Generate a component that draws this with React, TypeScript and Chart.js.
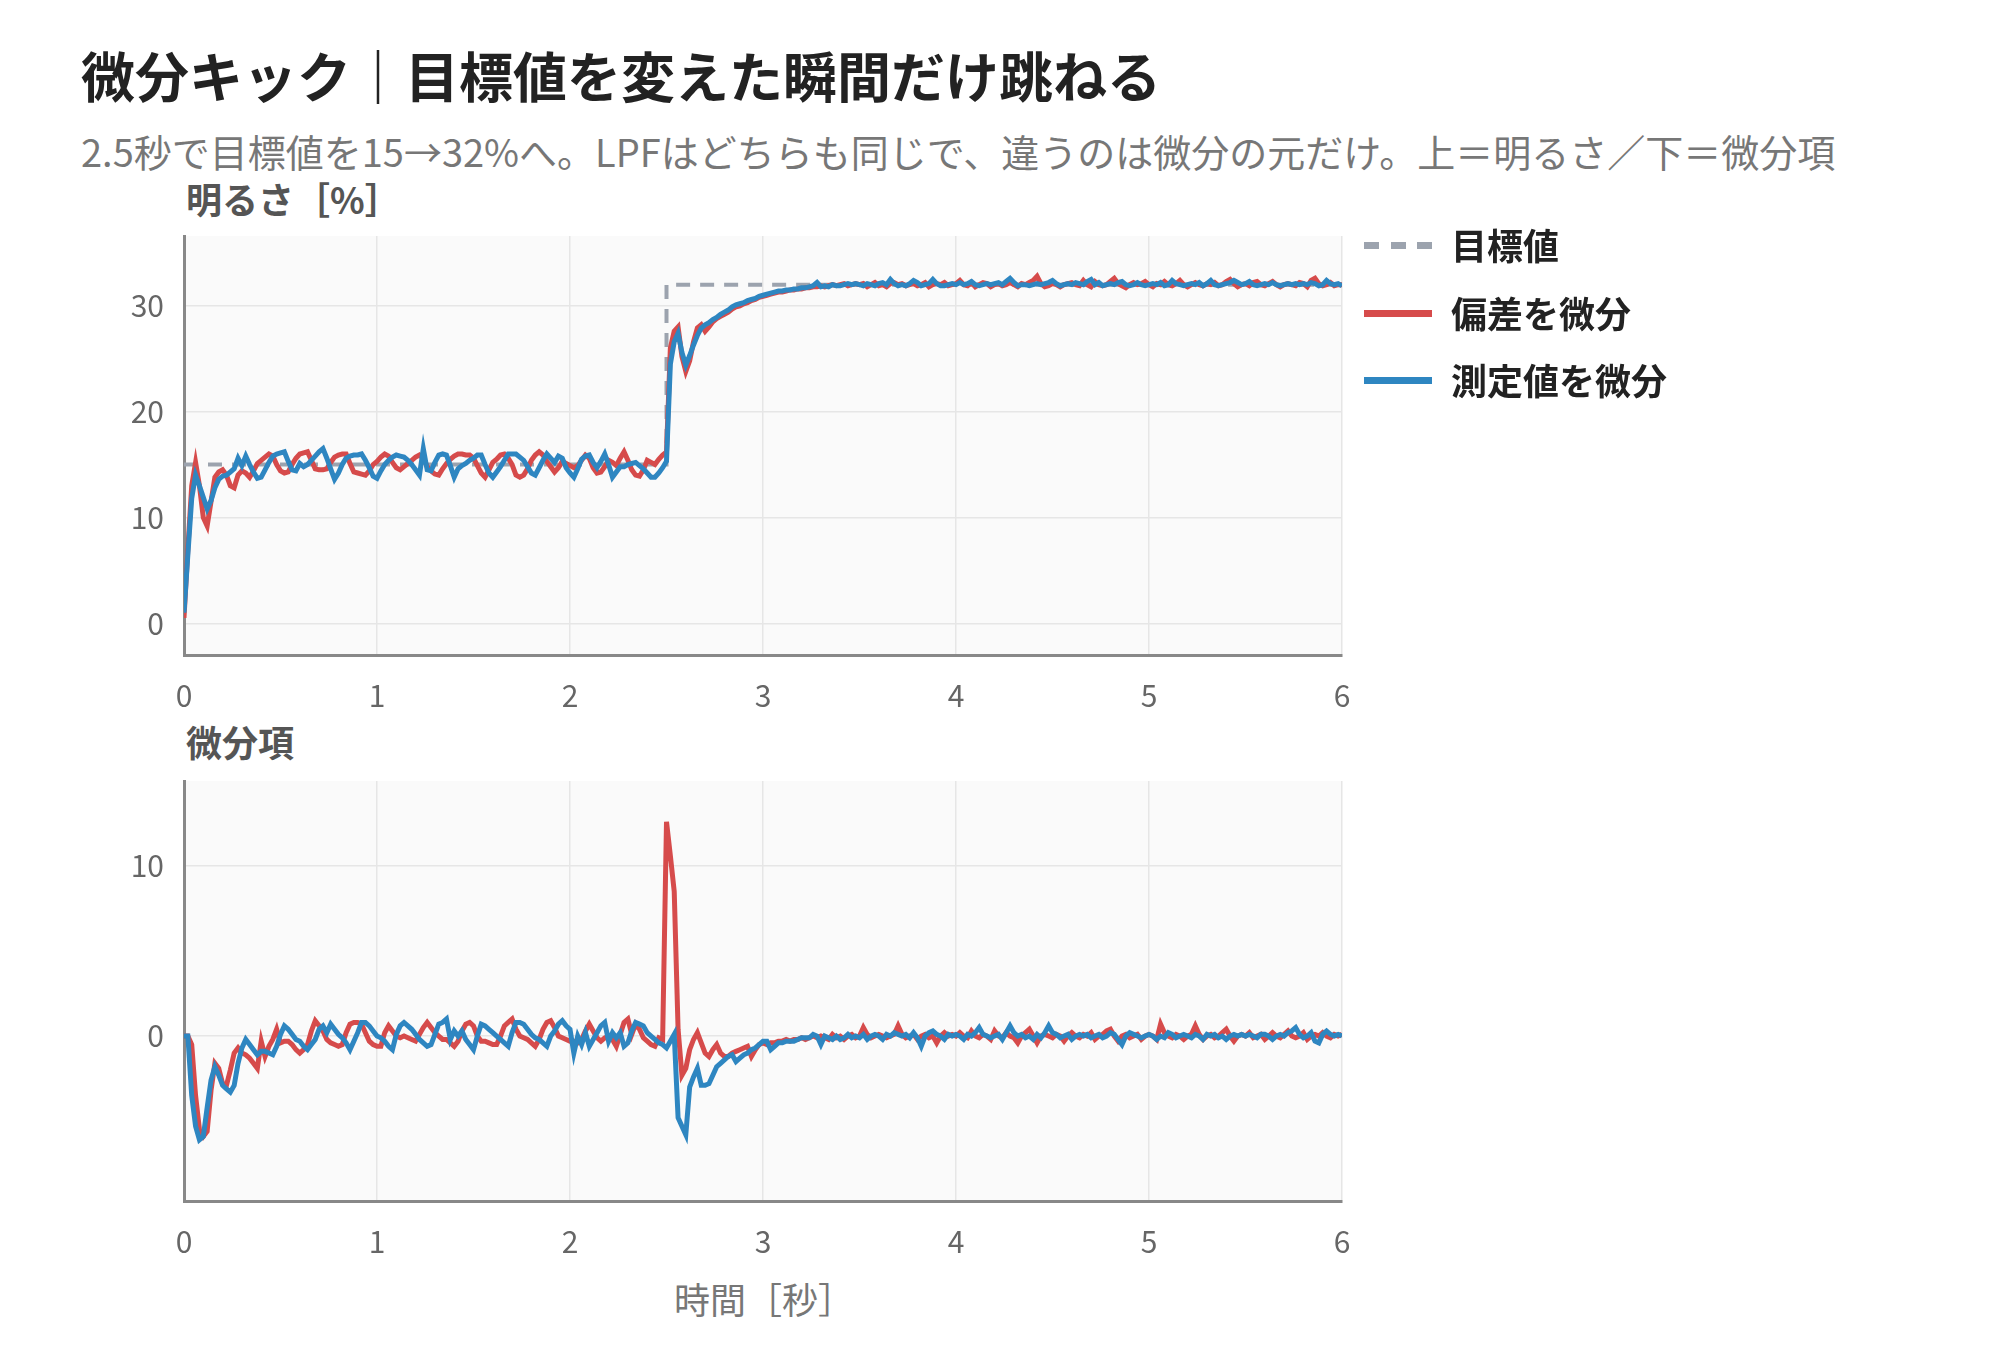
import { useEffect, useRef } from 'react';
import { Chart, registerables } from 'chart.js';

Chart.register(...registerables);

// sample times: 0 .. 6 s every 0.02 s
const TIME = Array.from({ length: 301 }, (_, i) => Math.round(i * 2) / 100);

const TARGET_T = [0, 2.5, 2.5, 6];
const TARGET_V = [15, 15, 32, 32];

// 明るさ: 偏差を微分
const BRIGHT_ERR = [
  0.5, 7.0, 13.0, 15.2, 13.0, 10.0, 9.2, 11.5, 13.8, 14.3, 14.5, 14.0, 13.0, 12.8, 14.0, 14.4, 14.2, 13.8, 14.4, 15.1, 15.4, 15.7, 16.0, 15.8, 15.0,
  14.4, 14.2, 14.3, 15.0, 15.6, 16.0, 16.1, 16.2, 15.4, 14.6, 14.5, 14.5, 14.6, 15.2, 15.7, 15.9, 16.0, 16.0, 15.1, 14.3, 14.2, 14.1, 14.0, 14.4, 15.0,
  15.3, 15.7, 16.0, 15.8, 15.2, 14.7, 14.5, 14.8, 15.1, 15.4, 15.7, 15.9, 15.6, 14.8, 14.4, 14.1, 14.0, 14.6, 15.1, 15.5, 15.8, 16.0, 16.0, 15.9, 15.9,
  15.6, 14.9, 14.2, 13.8, 14.5, 15.2, 15.5, 15.9, 16.0, 15.6, 15.0, 14.0, 13.8, 14.0, 14.6, 15.4, 15.9, 16.2, 15.9, 15.3, 14.8, 14.3, 14.7, 15.3, 15.1,
  14.9, 14.7, 14.9, 15.4, 15.9, 15.6, 14.7, 14.2, 14.3, 14.8, 15.4, 15.2, 14.9, 15.6, 16.2, 15.4, 14.5, 14.0, 13.9, 14.5, 15.4, 15.2, 15.0, 15.5, 15.9,
  16.2, 26.0, 27.6, 28.0, 25.2, 23.8, 24.8, 26.6, 27.9, 28.2, 27.6, 28.0, 28.5, 28.8, 29.0, 29.2, 29.4, 29.7, 29.9, 30.0, 30.2, 30.3, 30.5, 30.6, 30.8,
  30.9, 31.0, 31.1, 31.2, 31.3, 31.3, 31.4, 31.5, 31.5, 31.6, 31.6, 31.7, 31.7, 31.8, 31.8, 31.9, 31.8, 31.9, 32.0, 31.9, 32.0, 32.1, 31.9, 32.0, 32.1,
  32.0, 32.1, 31.8, 32.0, 32.2, 31.9, 32.0, 31.8, 32.1, 32.2, 32.0, 32.1, 31.9, 32.0, 32.1, 31.9, 32.0, 32.2, 31.8, 32.0, 32.1, 32.0, 32.2, 31.9, 32.0,
  32.1, 32.4, 32.0, 31.9, 32.2, 31.8, 32.0, 32.2, 32.1, 31.8, 32.0, 32.1, 31.9, 32.0, 32.2, 32.0, 31.8, 32.1, 32.0, 32.2, 32.4, 32.8, 32.1, 31.8, 31.9,
  32.1, 32.0, 31.8, 32.0, 32.1, 32.2, 32.0, 31.9, 32.4, 32.0, 31.8, 32.3, 32.0, 31.9, 32.0, 32.3, 32.6, 32.1, 31.9, 31.7, 32.0, 32.2, 32.0, 32.1, 32.3,
  32.0, 31.8, 32.1, 32.0, 32.3, 32.0, 31.9, 32.1, 32.4, 32.0, 31.8, 32.0, 32.2, 32.0, 31.9, 32.1, 32.0, 32.2, 31.9, 32.0, 32.3, 32.5, 32.1, 31.8, 32.0,
  32.1, 31.9, 32.2, 32.3, 32.0, 31.9, 32.1, 32.3, 32.0, 31.8, 32.0, 32.1, 32.0, 31.9, 32.2, 32.1, 31.8, 32.4, 32.6, 32.1, 31.9, 32.0, 32.2, 31.9, 32.0,
  32.0,
];

// 明るさ: 測定値を微分
const BRIGHT_MEAS = [
  1.0, 6.5, 11.8, 14.0, 13.0, 11.9, 10.8, 11.6, 12.8, 13.6, 13.9, 14.0, 14.3, 14.6, 15.6, 14.9, 15.8, 15.0, 14.3, 13.7, 13.8, 14.5, 15.2, 15.8, 16.0,
  16.1, 16.2, 15.3, 14.5, 14.4, 15.1, 14.8, 15.0, 15.4, 15.8, 16.2, 16.5, 15.6, 14.6, 13.6, 14.2, 15.0, 15.6, 15.8, 15.9, 15.9, 16.0, 15.4, 14.7, 13.9,
  13.7, 14.4, 15.0, 15.4, 15.7, 15.9, 15.8, 15.7, 15.4, 15.0, 14.5, 14.0, 16.5, 14.5, 14.4, 15.2, 15.9, 16.0, 15.9, 14.9, 13.8, 14.6, 14.9, 15.1, 15.4,
  15.6, 15.9, 15.9, 15.0, 14.2, 13.8, 14.3, 14.8, 15.4, 16.0, 16.0, 16.0, 15.7, 15.4, 14.8, 14.2, 14.0, 14.7, 15.4, 16.0, 15.6, 15.2, 15.8, 15.6, 14.7,
  14.2, 13.8, 14.6, 15.5, 15.8, 15.9, 15.2, 14.7, 15.3, 16.0, 15.0, 13.8, 14.3, 14.8, 14.8, 15.0, 15.1, 15.2, 14.9, 14.6, 14.2, 13.8, 13.8, 14.2, 14.7,
  15.3, 24.5, 26.6, 27.4, 25.6, 24.4, 25.3, 26.3, 27.2, 27.9, 28.2, 28.4, 28.7, 28.9, 29.2, 29.4, 29.6, 29.9, 30.1, 30.2, 30.3, 30.5, 30.6, 30.7, 30.9,
  31.0, 31.1, 31.2, 31.3, 31.4, 31.4, 31.5, 31.5, 31.6, 31.6, 31.7, 31.7, 31.8, 31.9, 32.2, 31.8, 31.9, 31.8, 32.0, 31.9, 31.9, 32.0, 32.1, 32.0, 32.1,
  32.0, 31.9, 32.1, 32.0, 31.9, 32.1, 32.2, 32.0, 32.5, 32.1, 31.9, 32.0, 31.9, 32.1, 32.4, 32.2, 31.9, 32.0, 32.1, 32.5, 32.1, 31.9, 31.9, 32.0, 32.1,
  32.0, 32.2, 32.0, 32.1, 32.3, 32.0, 31.9, 32.0, 32.1, 32.0, 32.1, 32.2, 32.0, 32.3, 32.6, 32.2, 31.9, 32.0, 32.0, 31.9, 32.0, 32.1, 32.0, 32.1, 32.2,
  32.4, 32.1, 31.9, 32.0, 32.1, 32.0, 32.2, 32.1, 32.0, 32.3, 32.5, 32.0, 32.2, 31.9, 32.0, 32.1, 32.0, 32.2, 32.3, 32.0, 31.9, 32.0, 32.2, 32.0, 31.9,
  32.0, 32.1, 32.0, 32.2, 31.9, 32.0, 32.4, 32.1, 32.0, 31.9, 32.0, 32.1, 32.0, 32.2, 31.9, 32.1, 32.4, 32.0, 31.9, 32.0, 32.1, 32.2, 32.4, 32.2, 32.0,
  32.1, 32.3, 32.0, 31.9, 32.0, 32.1, 32.0, 32.2, 32.0, 31.9, 32.0, 32.1, 32.0, 32.1, 32.0, 32.1, 32.0, 32.2, 32.1, 31.9, 32.0, 32.4, 32.1, 32.0, 32.1,
  31.9,
];

// 微分項: 偏差を微分
const DTERM_ERR = [
  0, 0, -0.5, -3.5, -5.5, -5.9, -5.6, -3.2, -1.6, -1.9, -2.8, -2.9, -2.0, -1.0, -0.7, -1.0, -1.1, -1.3, -1.6, -1.9, -0.3, -1.2, -0.6, -0.2, 0.4,
  -0.4, -0.3, -0.3, -0.5, -0.8, -1.0, -0.8, -0.5, 0.3, 0.9, 0.6, 0.3, -0.2, -0.4, -0.5, -0.6, -0.5, 0.2, 0.7, 0.8, 0.8, 0.7, 0.2, -0.3, -0.5,
  -0.6, -0.6, 0.2, 0.6, 0.3, 0.0, -0.1, 0.0, -0.1, -0.2, -0.3, 0.1, 0.5, 0.8, 0.5, 0.2, 0.0, -0.2, -0.2, -0.4, -0.6, -0.3, 0.3, 0.7, 0.8,
  0.6, 0.0, -0.3, -0.3, -0.4, -0.5, -0.5, 0.0, 0.6, 0.8, 1.0, 0.4, 0.0, -0.1, -0.2, -0.4, -0.6, -0.2, 0.4, 0.8, 0.9, 0.5, 0.0, -0.1, -0.2,
  -0.3, -0.3, -0.4, -0.2, 0.3, 0.7, 0.3, -0.1, -0.3, -0.1, 0.0, -0.2, -0.6, 0.1, 0.8, 1.0, 0.1, 0.7, 0.4, -0.1, -0.3, -0.5, -0.6, -0.1, -0.2,
  12.6, 10.6, 8.5, 0.4, -2.3, -1.9, -0.8, -0.2, 0.2, -0.4, -1.0, -1.2, -0.8, -0.5, -1.0, -1.2, -1.2, -1.0, -0.9, -0.8, -0.7, -0.6, -1.2, -0.8, -0.5,
  -0.4, -0.5, -0.4, -0.4, -0.3, -0.3, -0.2, -0.3, -0.2, -0.2, -0.1, -0.2, -0.1, 0.0, -0.1, 0.0, -0.1, -0.2, 0.1, -0.1, 0.0, -0.2, 0.0, 0.1, -0.1,
  0.0, 0.5, 0.1, -0.1, 0.0, 0.1, 0.0, -0.1, 0.0, 0.1, 0.6, 0.1, -0.1, 0.0, 0.1, -0.2, 0.0, 0.1, -0.1, 0.0, -0.4, 0.0, 0.2, 0.0, 0.1,
  0.0, 0.2, 0.0, -0.1, 0.3, 0.0, -0.1, 0.1, 0.0, -0.2, 0.3, 0.0, -0.1, 0.2, 0.0, -0.1, -0.4, 0.0, 0.2, 0.4, 0.0, -0.4, 0.0, 0.1, 0.0,
  -0.1, 0.1, 0.0, -0.3, 0.0, 0.2, 0.0, -0.1, 0.1, 0.0, 0.2, -0.2, 0.0, 0.1, 0.3, 0.4, 0.0, -0.3, 0.0, 0.1, -0.1, 0.0, 0.1, -0.2, 0.0,
  0.1, 0.0, -0.2, 0.7, 0.2, 0.0, -0.1, 0.1, 0.0, -0.2, 0.0, 0.1, 0.6, 0.1, -0.2, 0.0, 0.1, -0.1, 0.0, 0.2, 0.4, 0.0, -0.3, 0.0, 0.1,
  0.0, 0.2, -0.1, 0.0, 0.1, -0.2, 0.0, 0.2, 0.0, -0.1, 0.1, 0.3, 0.0, -0.1, 0.0, 0.2, -0.2, 0.0, 0.1, 0.0, 0.2, 0.0, -0.1, 0.1, 0.0,
  0.1,
];

// 微分項: 測定値を微分
const DTERM_MEAS = [
  0, 0, -3.5, -5.3, -6.1, -5.9, -4.2, -2.6, -1.8, -2.3, -2.9, -3.1, -3.3, -2.9, -1.6, -0.7, -0.2, -0.5, -0.8, -1.1, -0.9, -0.9, -1.0, -1.1, -0.6,
  0.1, 0.6, 0.4, 0.1, -0.2, -0.3, -0.6, -0.8, -0.5, -0.2, 0.4, 0.6, 0.2, 0.7, 0.4, 0.1, -0.1, -0.4, -0.8, -0.3, 0.2, 0.8, 0.8, 0.6, 0.3,
  0.0, -0.1, -0.3, -0.6, -0.8, 0.1, 0.6, 0.8, 0.6, 0.4, 0.1, -0.2, -0.4, -0.6, -0.5, 0.1, 0.7, 0.8, 1.0, -0.2, 0.3, 0.0, 0.3, -0.2, -0.5,
  -0.8, 0.0, 0.7, 0.6, 0.4, 0.2, 0.0, -0.2, -0.4, -0.6, 0.2, 0.8, 0.8, 0.7, 0.4, 0.1, -0.1, -0.2, -0.4, -0.6, 0.0, 0.3, 0.7, 0.9, 0.6,
  0.4, -1.0, 0.0, -0.5, 0.2, -0.6, -0.2, 0.2, 0.6, 0.8, -0.3, 0.2, -0.1, 0.2, -0.6, -0.4, 0.3, 0.8, 0.7, 0.6, 0.2, 0.0, -0.2, -0.4, -0.5,
  -0.7, -0.3, 0.1, -4.8, -5.3, -5.8, -3.0, -2.4, -1.9, -2.9, -2.9, -2.8, -2.3, -1.8, -1.6, -1.4, -1.2, -1.1, -1.5, -1.3, -1.1, -1.0, -0.8, -0.7, -0.5,
  -0.3, -0.3, -0.8, -0.6, -0.4, -0.4, -0.3, -0.3, -0.3, -0.2, -0.1, -0.1, -0.1, 0.1, 0.0, -0.5, 0.0, -0.1, -0.2, 0.0, -0.2, -0.1, 0.1, -0.1, 0.0,
  -0.1, 0.1, -0.2, 0.0, 0.1, 0.0, -0.2, 0.1, 0.0, 0.2, 0.1, 0.0, 0.1, -0.1, 0.2, -0.1, -0.6, 0.0, 0.2, 0.3, 0.1, 0.0, -0.2, 0.1, 0.0,
  0.1, 0.0, -0.2, 0.1, 0.0, 0.2, 0.5, 0.1, 0.0, -0.1, 0.0, 0.1, -0.2, 0.2, 0.6, 0.2, 0.0, 0.1, -0.1, 0.0, -0.2, 0.1, -0.1, 0.2, 0.6,
  0.2, 0.1, -0.1, 0.0, 0.1, -0.2, 0.0, 0.1, 0.0, 0.1, -0.1, 0.0, 0.1, -0.1, 0.0, 0.2, 0.1, -0.2, -0.5, 0.0, 0.2, 0.1, 0.0, -0.1, 0.0,
  0.1, 0.0, -0.2, 0.0, -0.1, 0.2, 0.1, -0.1, 0.0, 0.1, 0.0, -0.1, 0.1, 0.0, -0.2, 0.1, 0.0, 0.1, -0.1, 0.0, -0.2, 0.0, 0.1, 0.0, 0.1,
  0.0, 0.1, 0.0, -0.1, 0.1, 0.1, 0.0, -0.2, 0.0, 0.1, 0.0, 0.2, 0.3, 0.5, 0.1, -0.1, 0.0, 0.2, -0.3, -0.4, 0.1, 0.3, 0.1, 0.0, 0.1,
  0.0,
];

const X_TICKS = [0, 1, 2, 3, 4, 5, 6];
const TOP_Y_TICKS = [0, 10, 20, 30];
const BOTTOM_Y_TICKS = [0, 10];

const RED = '#d64b4b';
const BLUE = '#2e86c1';
const GRAY = '#9ca3ae';
const FONT = "'Noto Sans CJK JP', 'Noto Sans', sans-serif";

const toPoints = (ys: number[]) => ys.map((y, i) => ({ x: TIME[i], y }));

const plotBg = {
  id: 'plotBg',
  beforeDraw(chart: Chart) {
    const { ctx, chartArea: a } = chart;
    ctx.save();
    ctx.fillStyle = '#fafafa';
    ctx.fillRect(a.left, a.top, a.right - a.left, a.bottom - a.top);
    ctx.restore();
  },
};

interface PanelProps {
  top: number;
  height: number;
  yMin: number;
  yMax: number;
  yTicks: number[];
  datasets: any[];
}

// the y ticks reserve ~40px at the top, the x axis 60px at the bottom
function Panel({ top, height, yMin, yMax, yTicks, datasets }: PanelProps) {
  const canvasRef = useRef<HTMLCanvasElement>(null);

  useEffect(() => {
    if (!canvasRef.current) return;
    const tickFont = { family: FONT, size: 30 };
    const chart = new Chart(canvasRef.current, {
      type: 'line',
      data: { datasets },
      plugins: [plotBg],
      options: {
        responsive: false,
        animation: false,
        events: [],
        layout: { padding: { left: 64, right: 38, top: 36, bottom: 0 } },
        plugins: { legend: { display: false }, tooltip: { enabled: false } },
        elements: { point: { radius: 0 }, line: { tension: 0 } },
        scales: {
          x: {
            type: 'linear',
            min: 0,
            max: 6,
            afterBuildTicks: (s: any) => { s.ticks = X_TICKS.map((v) => ({ value: v })); },
            afterFit: (s: any) => { s.height = 60; },
            grid: { color: '#e6e6e6', lineWidth: 1.5, drawTicks: false },
            border: { color: '#888', width: 3 },
            ticks: { color: '#666', font: tickFont, padding: 23, maxRotation: 0 },
          },
          y: {
            min: yMin,
            max: yMax,
            afterBuildTicks: (s: any) => { s.ticks = yTicks.map((v) => ({ value: v })); },
            afterFit: (s: any) => { s.width = 120; },
            grid: { color: '#e6e6e6', lineWidth: 1.5, drawTicks: false },
            border: { color: '#888', width: 3 },
            ticks: { color: '#666', font: tickFont, padding: 20 },
          },
        },
      },
    });
    return () => chart.destroy();
  }, [yMin, yMax, yTicks, datasets]);

  return (
    <canvas
      ref={canvasRef}
      width={1380}
      height={height}
      style={{ position: 'absolute', left: 0, top, width: 1380, height }}
    />
  );
}

const topDatasets = [
  {
    label: '目標値',
    data: TARGET_T.map((x, i) => ({ x, y: TARGET_V[i] })),
    borderColor: GRAY,
    borderWidth: 4,
    borderDash: [14, 10],
    order: 2,
  },
  { label: '偏差を微分', data: toPoints(BRIGHT_ERR), borderColor: RED, borderWidth: 5, order: 1 },
  { label: '測定値を微分', data: toPoints(BRIGHT_MEAS), borderColor: BLUE, borderWidth: 5, order: 0 },
];

const bottomDatasets = [
  { label: '偏差を微分', data: toPoints(DTERM_ERR), borderColor: RED, borderWidth: 5, order: 1 },
  { label: '測定値を微分', data: toPoints(DTERM_MEAS), borderColor: BLUE, borderWidth: 5, order: 0 },
];

const LEGEND = [
  { label: '目標値', color: GRAY, dashed: true },
  { label: '偏差を微分', color: RED, dashed: false },
  { label: '測定値を微分', color: BLUE, dashed: false },
];

function LegendLine({ color, dashed }: { color: string; dashed: boolean }) {
  const parts = dashed ? [0, 26.5, 53] : [0];
  return (
    <>
      {parts.map((x) => (
        <div
          key={x}
          style={{ position: 'absolute', left: x, top: 16, width: dashed ? 15 : 68, height: 7, background: color }}
        />
      ))}
    </>
  );
}

export default function App() {
  const text = (extra: React.CSSProperties): React.CSSProperties => ({
    position: 'absolute',
    fontFamily: FONT,
    lineHeight: 1,
    whiteSpace: 'nowrap',
    margin: 0,
    ...extra,
  });

  return (
    <div style={{ position: 'absolute', left: 0, top: 0, width: 2000, height: 1352, background: '#fff' }}>
      <div style={text({ left: 81, top: 48, fontSize: 54, fontWeight: 700, color: '#222' })}>
        微分キック｜目標値を変えた瞬間だけ跳ねる
      </div>
      <div style={text({ left: 81, top: 132, fontSize: 38, color: '#777' })}>
        2.5秒で目標値を15→32%へ。LPFはどちらも同じで、違うのは微分の元だけ。上＝明るさ／下＝微分項
      </div>
      <div style={text({ left: 186, top: 180, fontSize: 36, fontWeight: 700, color: '#555' })}>明るさ［%］</div>
      <div style={text({ left: 186, top: 723, fontSize: 36, fontWeight: 700, color: '#555' })}>微分項</div>
      <div style={text({ left: 764, top: 1280, fontSize: 36, color: '#777', transform: 'translateX(-50%)' })}>
        時間［秒］
      </div>

      <Panel top={198} height={517} yMin={-3} yMax={36.6} yTicks={TOP_Y_TICKS} datasets={topDatasets} />
      <Panel top={743} height={518} yMin={-9.7} yMax={15} yTicks={BOTTOM_Y_TICKS} datasets={bottomDatasets} />

      {LEGEND.map((item, i) => (
        <div key={item.label} style={{ position: 'absolute', left: 1364, top: 226 + i * 67.5, height: 40, width: 400 }}>
          <LegendLine color={item.color} dashed={item.dashed} />
          <div style={text({ left: 87, top: 0, fontSize: 36, fontWeight: 700, color: '#222' })}>{item.label}</div>
        </div>
      ))}
    </div>
  );
}
